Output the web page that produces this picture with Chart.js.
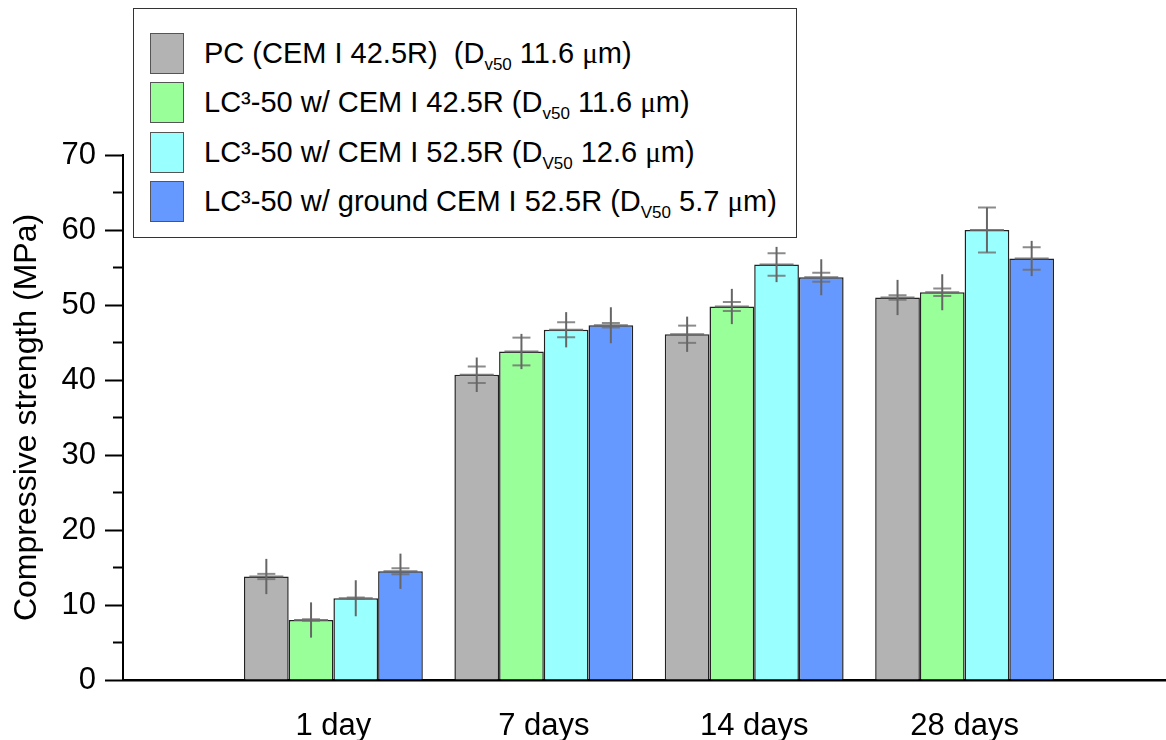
<!DOCTYPE html>
<html>
<head>
<meta charset="utf-8">
<script src="https://cdn.jsdelivr.net/npm/chart.js@4.4.0/dist/chart.umd.min.js"></script>
<style>
  html, body { margin: 0; padding: 0; background: #fff; overflow: hidden; }
  #wrap { position: relative; width: 1195px; height: 740px; }
  #legendBox {
    position: absolute; left: 133px; top: 8px; width: 664px; height: 230px;
    border: 1.5px solid #333; background: #fff; box-sizing: border-box;
    font-family: "Liberation Sans", Arial, sans-serif; font-size: 29px; color: #000;
  }
  .row { position: absolute; left: 16px; height: 41px; display: flex; align-items: center; white-space: pre; }
  .sw { width: 34px; height: 41px; box-sizing: border-box; border: 1.5px solid #555; margin-right: 20px; flex: none; }
  .row sub { font-size: 17px; vertical-align: -7px; line-height: 0; }
  .mu { font-family: "Liberation Serif", serif; }
</style>
</head>
<body>
<div id="wrap">
  <canvas id="chart" width="1195" height="740"></canvas>
  <div id="legendBox"></div>
</div>
<script>
/* ---------- data ---------- */
const categories = ["1 day", "7 days", "14 days", "28 days"];

const labelMain = [
  "PC (CEM I 42.5R)  (D",
  "LC³-50 w/ CEM I 42.5R (D",
  "LC³-50 w/ CEM I 52.5R (D",
  "LC³-50 w/ ground CEM I 52.5R (D"
];
const labelSub = ["v50", "v50", "V50", "V50"];
const labelSize = ["11.6", "11.6", "12.6", "5.7"];

const colors = ["#b3b3b3", "#99ff99", "#99ffff", "#6699ff"];

// mean compressive strength (MPa)
const pcValues     = [13.8, 40.7, 46.1, 51.0];
const lc425Values  = [8.0, 43.8, 49.8, 51.7];
const lc525Values  = [10.9, 46.7, 55.4, 60.0];
const lcGrndValues = [14.5, 47.3, 53.7, 56.2];

// whisker half-length
const pcErr     = [2.35, 2.3, 2.35, 2.35];
const lc425Err  = [2.35, 2.35, 2.35, 2.4];
const lc525Err  = [2.4, 2.35, 2.35, 3.0];
const lcGrndErr = [2.35, 2.4, 2.4, 2.35];

// cap offset from the mean
const pcCap     = [0.35, 1.1, 1.15, 0.3];
const lc425Cap  = [0.1, 1.85, 0.6, 0.5];
const lc525Cap  = [0.1, 1.0, 1.5, 3.0];
const lcGrndCap = [0.4, 0.3, 0.6, 1.5];

const yTicksMax = 70;
const yStep = 10;

/* ---------- helpers ---------- */
// empty slot on both ends of the axis, like the original plot
const pad = arr => [null, ...arr, null];
const axisLabels = pad(categories).map(c => c || "");

const values = [pcValues, lc425Values, lc525Values, lcGrndValues];
const errs = [pcErr, lc425Err, lc525Err, lcGrndErr];
const caps = [pcCap, lc425Cap, lc525Cap, lcGrndCap];

const datasets = values.map((v, i) => ({
  label: labelMain[i],
  data: pad(v),
  err: pad(errs[i]),
  cap: pad(caps[i]),
  backgroundColor: colors[i],
  borderColor: "#222",
  borderWidth: 1.5,
  categoryPercentage: 0.85,
  barPercentage: 1.0
}));

/* ---------- legend (html, for sub/superscripts) ---------- */
const legendBox = document.getElementById("legendBox");
labelMain.forEach((txt, i) => {
  const row = document.createElement("div");
  row.className = "row";
  row.style.top = (24 + i * 49.3) + "px";
  const sw = document.createElement("div");
  sw.className = "sw";
  sw.style.background = colors[i];
  const span = document.createElement("span");
  span.innerHTML = txt + "<sub>" + labelSub[i] + "</sub> " + labelSize[i] +
    " <span class=\"mu\">μ</span>m)";
  row.appendChild(sw);
  row.appendChild(span);
  legendBox.appendChild(row);
});

/* ---------- plugins ---------- */
const errorBars = {
  id: "errorBars",
  afterDatasetsDraw(chart) {
    const ctx = chart.ctx;
    const y = chart.scales.y;
    chart.data.datasets.forEach((ds, i) => {
      const meta = chart.getDatasetMeta(i);
      meta.data.forEach((bar, j) => {
        const v = ds.data[j];
        if (v == null) return;
        const x = bar.x;
        const e = ds.err[j], c = ds.cap[j];
        ctx.save();
        ctx.lineWidth = 2;
        // line at the mean
        ctx.strokeStyle = "rgba(105,105,105,0.85)";
        ctx.beginPath();
        ctx.moveTo(x - 17, y.getPixelForValue(v));
        ctx.lineTo(x + 17, y.getPixelForValue(v));
        ctx.stroke();
        // caps
        ctx.strokeStyle = "rgba(110,110,110,0.8)";
        [v + c, v - c].forEach(cv => {
          const py = y.getPixelForValue(cv);
          ctx.beginPath();
          ctx.moveTo(x - 9, py);
          ctx.lineTo(x + 9, py);
          ctx.stroke();
        });
        // whisker
        ctx.strokeStyle = "#666";
        ctx.beginPath();
        ctx.moveTo(x, y.getPixelForValue(v + e));
        ctx.lineTo(x, y.getPixelForValue(v - e));
        ctx.stroke();
        ctx.restore();
      });
    });
  }
};

const minorTicks = {
  id: "minorTicks",
  afterDraw(chart) {
    const ctx = chart.ctx;
    const y = chart.scales.y;
    const left = chart.chartArea.left;
    const t = y.ticks.map(k => k.value);
    ctx.save();
    ctx.strokeStyle = "#000";
    ctx.lineWidth = 2;
    for (let k = 0; k < t.length - 1; k++) {
      const py = y.getPixelForValue((t[k] + t[k + 1]) / 2);
      ctx.beginPath();
      ctx.moveTo(left - 10, py);
      ctx.lineTo(left, py);
      ctx.stroke();
    }
    ctx.restore();
  }
};

/* ---------- chart ---------- */
new Chart(document.getElementById("chart").getContext("2d"), {
  type: "bar",
  data: { labels: axisLabels, datasets },
  plugins: [errorBars, minorTicks],
  options: {
    responsive: false,
    animation: false,
    layout: { padding: { top: 155, right: 0, left: 0, bottom: 0 } },
    plugins: { legend: { display: false }, tooltip: { enabled: false } },
    scales: {
      x: {
        type: "category",
        offset: false,
        grid: { display: false },
        border: { display: true, color: "#000", width: 2.5 },
        ticks: {
          color: "#000",
          font: { family: "Liberation Sans", size: 31 },
          padding: 20,
          maxRotation: 0,
          autoSkip: false
        },
        afterFit(s) { s.height = 60; }
      },
      y: {
        min: 0,
        max: yTicksMax,
        ticks: {
          stepSize: yStep,
          color: "#000",
          font: { family: "Liberation Sans", size: 31 },
          padding: 9
        },
        grid: { drawOnChartArea: false, tickLength: 18, tickWidth: 2, tickColor: "#000" },
        border: { display: true, color: "#000", width: 2 },
        title: {
          display: true,
          text: "Compressive strength (MPa)",
          color: "#000",
          font: { family: "Liberation Sans", size: 32 },
          padding: { top: 8 }
        },
        afterFit(s) { s.width = 123; }
      }
    }
  }
});
</script>
</body>
</html>
